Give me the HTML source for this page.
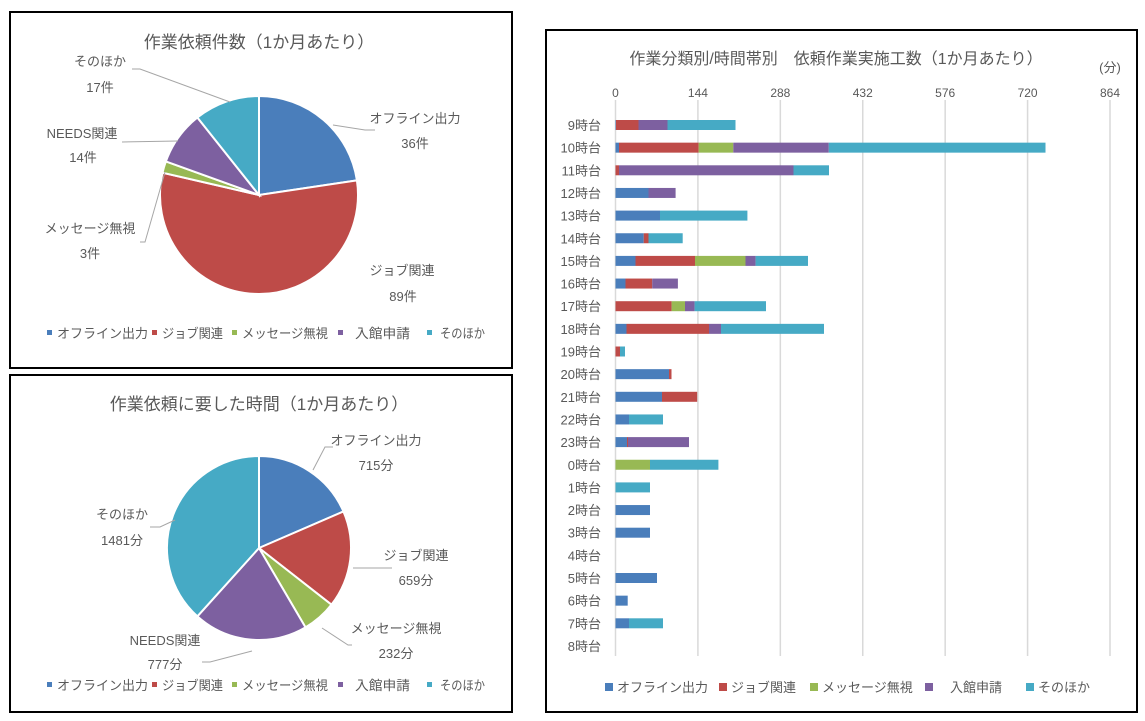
<!DOCTYPE html>
<html><head><meta charset="utf-8"><style>
body{margin:0;background:#fff;width:1145px;height:716px;overflow:hidden}
svg text{font-family:"Liberation Sans","Noto Sans CJK JP",sans-serif;fill:#595959}
</style></head><body>
<svg id="s" width="1145" height="716" xmlns="http://www.w3.org/2000/svg">
<rect x="10" y="12" width="502" height="356" fill="none" stroke="#000" stroke-width="2"/>
<rect x="10" y="375" width="502" height="337" fill="none" stroke="#000" stroke-width="2"/>
<rect x="546" y="30" width="591" height="682" fill="none" stroke="#000" stroke-width="2"/>
<text x="259" y="48" font-size="17" text-anchor="middle">作業依頼件数（1か月あたり）</text>
<text x="259" y="410" font-size="17" text-anchor="middle">作業依頼に要した時間（1か月あたり）</text>
<text x="836" y="64" font-size="16" text-anchor="middle">作業分類別/時間帯別　依頼作業実施工数（1か月あたり）</text>
<text x="1110" y="72" font-size="13" text-anchor="middle">(分)</text>
<g id="g"></g>
<g font-size="13">
<text x="415" y="123" text-anchor="middle">オフライン出力</text><text x="415" y="148" text-anchor="middle">36件</text>
<text x="402" y="275" text-anchor="middle">ジョブ関連</text><text x="403" y="301" text-anchor="middle">89件</text>
<text x="90" y="233" text-anchor="middle">メッセージ無視</text><text x="90" y="258" text-anchor="middle">3件</text>
<text x="82" y="138" text-anchor="middle">NEEDS関連</text><text x="83" y="162" text-anchor="middle">14件</text>
<text x="100" y="66" text-anchor="middle">そのほか</text><text x="100" y="92" text-anchor="middle">17件</text>
<text x="376" y="445" text-anchor="middle">オフライン出力</text><text x="376" y="470" text-anchor="middle">715分</text>
<text x="416" y="560" text-anchor="middle">ジョブ関連</text><text x="416" y="585" text-anchor="middle">659分</text>
<text x="396" y="633" text-anchor="middle">メッセージ無視</text><text x="396" y="658" text-anchor="middle">232分</text>
<text x="122" y="519" text-anchor="middle">そのほか</text><text x="122" y="545" text-anchor="middle">1481分</text>
<text x="165" y="645" text-anchor="middle">NEEDS関連</text><text x="165" y="669" text-anchor="middle">777分</text>
</g>
<g stroke="#a6a6a6" fill="none" stroke-width="1">
<polyline points="333,125 365,130 375,130"/>
<polyline points="140,242 145,242 165,172"/>
<polyline points="122,142 178,141"/>
<polyline points="132,69 140,69 230,102"/>
<polyline points="313,470 325,447 333,447"/>
<polyline points="353,568 392,568"/>
<polyline points="322,628 348,645 352,645"/>
<polyline points="150,527 160,527 175,520"/>
<polyline points="202,662 210,662 252,651"/>
</g>
</svg>
<script>
var C=["#4a7ebb","#be4b48","#98b954","#7d60a0","#46aac5"];
var g=document.getElementById("g"),ns="http://www.w3.org/2000/svg";
function el(t,a,txt){var e=document.createElementNS(ns,t);for(var k in a)e.setAttribute(k,a[k]);if(txt)e.textContent=txt;g.appendChild(e);return e;}
function pie(cx,cy,r,v){var t=v.reduce((a,b)=>a+b),a=0;v.forEach((x,i)=>{var a2=a+x/t*2*Math.PI;
var p=(q)=>[cx+r*Math.sin(q),cy-r*Math.cos(q)];var s=p(a),e=p(a2);
el("path",{d:`M${cx},${cy}L${s[0]},${s[1]}A${r},${r} 0 ${a2-a>Math.PI?1:0} 1 ${e[0]},${e[1]}Z`,fill:C[i],stroke:"#fff","stroke-width":2});a=a2;});}
pie(259,195,99,[36,89,3,14,17]);
pie(259,548,92,[715,659,232,777,1481]);
var L=["オフライン出力","ジョブ関連","メッセージ無視","入館申請","そのほか"];
var LX=[[47,57,91],[152,162,61],[232,242,86],[338,355,55],[427,440,45]];
function leg(y){LX.forEach((a,i)=>{el("rect",{x:a[0],y:y-8,width:5,height:5,fill:C[i]});el("text",{x:a[1],y:y,"font-size":13,textLength:a[2],lengthAdjust:"spacingAndGlyphs"},L[i]);});}
leg(338);leg(690);
var x0=615.5,k=(1110-615.5)/864;
for(var i=0;i<=6;i++){var x=x0+i*144*k;el("line",{x1:x,y1:100,x2:x,y2:656,stroke:"#d9d9d9","stroke-width":1.5});el("text",{x:x,y:97,"font-size":12,"text-anchor":"middle"},String(i*144));}
var rows=[["9",[[616,0],[638.5,1],[667.5,3],[735.5,4]]],["10",[[619,0],[698.7,1],[733.3,2],[828.8,3],[1045.5,4]]],["11",[[619,1],[793.5,3],[829,4]]],["12",[[648.5,0],[675.6,3]]],["13",[[660,0],[747.4,4]]],["14",[[643.7,0],[648.5,1],[682.7,4]]],["15",[[635.5,0],[695,1],[745.5,2],[755.6,3],[808,4]]],["16",[[625.5,0],[652.2,1],[677.9,3]]],["17",[[671.6,1],[685,2],[694.6,3],[766,4]]],["18",[[626.5,0],[709,1],[721,3],[824,4]]],["19",[[620,1],[625,4]]],["20",[[669,0],[671.5,1]]],["21",[[662,0],[697.2,1]]],["22",[[629,0],[663,4]]],["23",[[627,0],[628,1],[689,3]]],["0",[[650,2],[718.4,4]]],["1",[[650,4]]],["2",[[650,0]]],["3",[[650,0]]],["4",[]],["5",[[657,0]]],["6",[[627.7,0]]],["7",[[629,0],[663,4]]],["8",[]]];
rows.forEach((r,i)=>{var y=125+i*22.65;el("text",{x:601,y:y+5,"font-size":13,"text-anchor":"end"},r[0]+"時台");var px=x0;r[1].forEach(s=>{el("rect",{x:px,y:y-5,width:s[0]-px,height:10,fill:C[s[1]]});px=s[0];});});
[[605,617,"オフライン出力"],[719,731,"ジョブ関連"],[810,822,"メッセージ無視"],[925,950,"入館申請"],[1026,1038,"そのほか"]].forEach((a,i)=>{el("rect",{x:a[0],y:683,width:8,height:8,fill:C[i]});el("text",{x:a[1],y:692,"font-size":13},a[2]);});
</script>
</body></html>
